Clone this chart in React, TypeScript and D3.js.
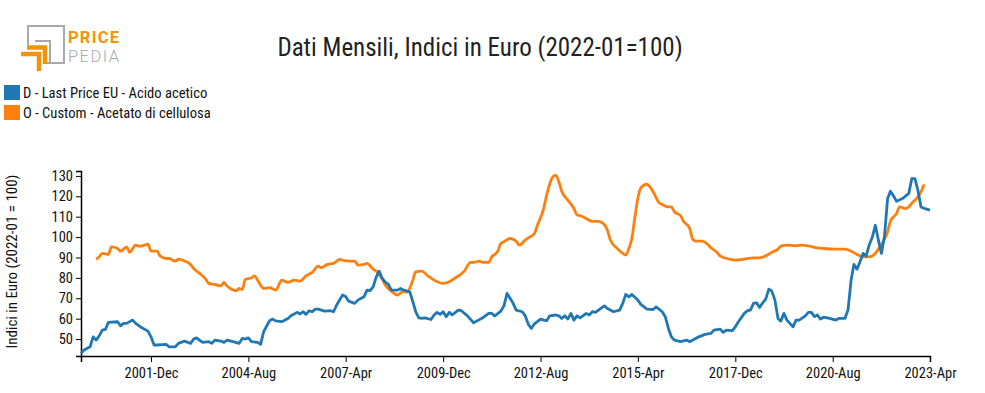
import * as d3 from 'd3'
import React, { useEffect, useRef } from 'react'

// [month, index value]
const acidoAcetico: [string, number][] = [
  ['2000-01', 43.0], ['2000-02', 44.6], ['2000-04', 46.2], ['2000-05', 51.1], ['2000-06', 49.5],
  ['2000-07', 51.6], ['2000-08', 54.4], ['2000-09', 54.7], ['2000-10', 58.2],
  ['2001-01', 58.5], ['2001-02', 56.5], ['2001-03', 57.7], ['2001-04', 57.7], ['2001-06', 59.3],
  ['2001-07', 57.7], ['2001-09', 55.5], ['2001-11', 53.9], ['2001-12', 51.1],
  ['2002-01', 47.1], ['2002-02', 47.1], ['2002-05', 47.4], ['2002-06', 46.2], ['2002-08', 46.2],
  ['2002-09', 47.9], ['2002-11', 49.0],
  ['2003-01', 47.9], ['2003-02', 50.0], ['2003-03', 50.6], ['2003-05', 48.4], ['2003-07', 48.7],
  ['2003-08', 47.9], ['2003-09', 49.5], ['2003-11', 49.0], ['2003-12', 48.4],
  ['2004-01', 49.5], ['2004-03', 48.7], ['2004-05', 47.9], ['2004-06', 50.3], ['2004-07', 50.0],
  ['2004-08', 50.6], ['2004-09', 48.7], ['2004-11', 48.4], ['2004-12', 47.4],
  ['2005-01', 53.6], ['2005-03', 59.0], ['2005-04', 59.8], ['2005-05', 58.9], ['2005-07', 58.5],
  ['2005-09', 60.1], ['2005-10', 61.4], ['2005-12', 63.1],
  ['2006-01', 62.3], ['2006-02', 63.4], ['2006-03', 62.1], ['2006-04', 63.9], ['2006-05', 63.4],
  ['2006-06', 64.7], ['2006-07', 64.7], ['2006-09', 63.7], ['2006-11', 63.9], ['2006-12', 63.4],
  ['2007-01', 66.7], ['2007-03', 71.6], ['2007-04', 70.9], ['2007-05', 68.6], ['2007-07', 67.5],
  ['2007-08', 69.1], ['2007-10', 70.7], ['2007-11', 74.0], ['2007-12', 73.8],
  ['2008-01', 75.6], ['2008-02', 80.5], ['2008-03', 83.3], ['2008-04', 79.7], ['2008-05', 77.9],
  ['2008-06', 76.8], ['2008-07', 74.0], ['2008-09', 74.0], ['2008-10', 74.8], ['2008-11', 74.0],
  ['2009-01', 73.2], ['2009-02', 68.3], ['2009-03', 63.4], ['2009-04', 60.4], ['2009-05', 60.1],
  ['2009-06', 60.4], ['2009-08', 59.6], ['2009-09', 61.8], ['2009-10', 63.1], ['2009-11', 62.1],
  ['2009-12', 63.4],
  ['2010-01', 61.0], ['2010-02', 63.1], ['2010-03', 61.8], ['2010-05', 64.2], ['2010-06', 63.9],
  ['2010-08', 61.4], ['2010-10', 58.0], ['2010-11', 58.8],
  ['2011-01', 60.4], ['2011-03', 62.6], ['2011-04', 62.6], ['2011-05', 61.3], ['2011-07', 63.7],
  ['2011-08', 66.3], ['2011-09', 72.4], ['2011-10', 70.0], ['2011-11', 67.5], ['2011-12', 64.2],
  ['2012-02', 63.4], ['2012-03', 61.4], ['2012-04', 57.2], ['2012-05', 55.2], ['2012-06', 57.5],
  ['2012-08', 59.8], ['2012-09', 59.3], ['2012-10', 59.0], ['2012-11', 61.4],
  ['2013-01', 61.8], ['2013-02', 61.4], ['2013-03', 60.1], ['2013-04', 61.4], ['2013-05', 59.8],
  ['2013-06', 62.6], ['2013-07', 59.3], ['2013-08', 61.4], ['2013-09', 60.4], ['2013-11', 62.6],
  ['2013-12', 61.8],
  ['2014-01', 63.4], ['2014-02', 63.1], ['2014-05', 66.3], ['2014-06', 65.0], ['2014-08', 63.4],
  ['2014-10', 64.2], ['2014-11', 67.5], ['2014-12', 71.9],
  ['2015-01', 70.7], ['2015-02', 71.9], ['2015-04', 69.1], ['2015-05', 67.0], ['2015-07', 64.7],
  ['2015-09', 64.5], ['2015-10', 65.8], ['2015-12', 63.4],
  ['2016-01', 60.9], ['2016-02', 55.2], ['2016-03', 51.1], ['2016-04', 49.5], ['2016-06', 48.7],
  ['2016-08', 49.5], ['2016-09', 48.7], ['2016-12', 51.1],
  ['2017-02', 52.3], ['2017-04', 52.8], ['2017-05', 54.4], ['2017-07', 54.9], ['2017-08', 53.3],
  ['2017-09', 54.4], ['2017-11', 54.1], ['2017-12', 56.0],
  ['2018-01', 58.5], ['2018-03', 62.6], ['2018-04', 63.9], ['2018-05', 64.2], ['2018-06', 67.5],
  ['2018-07', 67.8], ['2018-08', 65.5], ['2018-09', 67.8], ['2018-10', 69.6], ['2018-11', 74.5],
  ['2018-12', 73.5],
  ['2019-01', 69.1], ['2019-02', 60.1], ['2019-03', 58.8], ['2019-04', 62.6], ['2019-05', 59.3],
  ['2019-07', 56.0], ['2019-08', 59.3], ['2019-09', 59.3], ['2019-11', 61.4], ['2019-12', 63.1],
  ['2020-01', 63.1], ['2020-02', 61.0], ['2020-03', 61.8], ['2020-04', 59.8], ['2020-05', 60.7],
  ['2020-07', 60.1], ['2020-09', 59.3], ['2020-10', 60.1], ['2020-12', 60.1],
  ['2021-01', 64.2], ['2021-02', 78.9], ['2021-03', 86.6], ['2021-04', 84.3], ['2021-05', 87.9],
  ['2021-06', 92.0], ['2021-07', 90.7], ['2021-08', 96.1], ['2021-09', 99.9], ['2021-10', 105.8],
  ['2021-11', 98.5], ['2021-12', 92.0],
  ['2022-01', 100.6], ['2022-02', 118.9], ['2022-03', 122.5], ['2022-04', 120.2], ['2022-05', 117.6],
  ['2022-07', 118.9], ['2022-09', 121.4], ['2022-10', 128.7], ['2022-11', 128.7], ['2022-12', 123.0],
  ['2023-01', 114.8], ['2023-02', 114.1], ['2023-04', 113.2]
]

const acetatoCellulosa: [string, number][] = [
  ['2000-06', 89.0], ['2000-07', 90.3], ['2000-08', 92.0], ['2000-10', 91.5], ['2000-11', 95.2],
  ['2001-01', 94.4], ['2001-02', 93.1], ['2001-04', 95.2], ['2001-05', 92.5], ['2001-07', 96.1],
  ['2001-08', 95.6], ['2001-09', 95.7], ['2001-11', 96.5], ['2001-12', 93.1],
  ['2002-02', 93.1], ['2002-03', 90.8], ['2002-05', 89.5], ['2002-06', 89.5], ['2002-08', 88.2],
  ['2002-09', 89.2], ['2002-11', 88.3],
  ['2003-01', 86.6], ['2003-02', 84.6], ['2003-04', 82.2], ['2003-06', 79.4], ['2003-07', 77.3],
  ['2003-09', 76.8], ['2003-11', 76.1], ['2003-12', 77.8],
  ['2004-01', 76.0], ['2004-02', 74.8], ['2004-04', 73.7], ['2004-05', 74.8], ['2004-06', 74.3],
  ['2004-07', 79.2], ['2004-09', 80.0], ['2004-10', 81.0], ['2004-11', 78.9],
  ['2005-01', 74.8], ['2005-03', 75.2], ['2005-05', 74.0], ['2005-07', 78.9], ['2005-09', 77.8],
  ['2005-11', 78.9],
  ['2006-01', 78.4], ['2006-03', 81.0], ['2006-05', 82.7], ['2006-07', 85.8], ['2006-08', 85.0],
  ['2006-10', 86.6], ['2006-12', 87.1],
  ['2007-02', 89.0], ['2007-04', 88.3], ['2007-07', 88.2], ['2007-08', 86.3], ['2007-10', 86.6],
  ['2007-11', 87.1],
  ['2008-01', 84.3], ['2008-02', 83.3], ['2008-04', 79.4], ['2008-05', 76.5], ['2008-07', 73.5],
  ['2008-09', 71.6], ['2008-11', 73.5], ['2008-12', 72.9],
  ['2009-02', 78.9], ['2009-03', 83.0], ['2009-05', 83.3], ['2009-07', 81.0], ['2009-09', 78.9],
  ['2009-12', 77.3],
  ['2010-02', 78.1], ['2010-04', 80.0], ['2010-07', 83.3], ['2010-09', 87.6], ['2010-10', 87.6],
  ['2010-12', 88.2],
  ['2011-01', 87.6], ['2011-03', 87.6], ['2011-04', 90.3], ['2011-06', 93.1], ['2011-07', 96.9],
  ['2011-08', 97.7], ['2011-10', 99.3], ['2011-12', 98.0],
  ['2012-01', 96.1], ['2012-03', 98.5], ['2012-04', 99.6], ['2012-06', 101.8], ['2012-07', 105.8],
  ['2012-09', 114.0], ['2012-10', 120.6], ['2012-12', 129.5],
  ['2013-01', 130.3], ['2013-02', 127.0], ['2013-03', 122.5], ['2013-05', 118.1], ['2013-07', 114.0],
  ['2013-08', 110.8], ['2013-09', 110.5], ['2013-11', 109.1],
  ['2014-01', 107.7], ['2014-03', 107.7], ['2014-05', 106.2], ['2014-06', 103.3], ['2014-07', 98.5],
  ['2014-09', 94.7], ['2014-11', 92.0], ['2014-12', 91.2],
  ['2015-01', 94.4], ['2015-02', 99.6], ['2015-03', 109.1], ['2015-04', 118.9], ['2015-05', 124.1],
  ['2015-07', 125.9], ['2015-08', 124.6], ['2015-09', 122.2], ['2015-11', 116.8], ['2015-12', 116.0],
  ['2016-02', 114.8], ['2016-03', 114.8], ['2016-04', 112.4], ['2016-06', 110.5], ['2016-07', 107.8],
  ['2016-09', 104.2], ['2016-10', 99.0], ['2016-11', 98.0],
  ['2017-01', 98.0], ['2017-03', 96.4], ['2017-04', 94.8], ['2017-06', 92.5], ['2017-07', 90.8],
  ['2017-10', 89.2], ['2017-12', 88.7],
  ['2018-02', 89.0], ['2018-04', 89.5], ['2018-06', 89.8], ['2018-08', 89.8], ['2018-10', 90.8],
  ['2018-12', 92.5],
  ['2019-02', 94.1], ['2019-03', 95.6], ['2019-05', 96.1], ['2019-08', 95.7], ['2019-10', 96.1],
  ['2019-12', 95.7],
  ['2020-03', 94.7], ['2020-05', 94.4], ['2020-09', 94.1], ['2020-12', 94.1],
  ['2021-02', 93.1], ['2021-04', 91.5], ['2021-06', 90.3], ['2021-08', 90.3], ['2021-10', 92.0],
  ['2021-11', 94.1], ['2021-12', 96.4],
  ['2022-02', 102.6], ['2022-03', 107.8], ['2022-05', 111.5], ['2022-06', 114.8], ['2022-08', 114.0],
  ['2022-09', 114.8], ['2022-10', 116.5], ['2022-12', 119.8],
  ['2023-01', 122.2], ['2023-02', 125.8]
]

const seriesNames = ['D - Last Price EU - Acido acetico', 'O - Custom - Acetato di cellulosa']
const seriesColors = ['#1f77b4', '#ff7f0e']
const xTickMonths = ['2001-12', '2004-08', '2007-04', '2009-12', '2012-08', '2015-04', '2017-12', '2020-08', '2023-04']
const yTicks = [50, 60, 70, 80, 90, 100, 110, 120, 130]

const font = "'Roboto Condensed', 'Liberation Sans Narrow', 'Roboto', sans-serif"
const parseMonth = d3.timeParse('%Y-%m')
const fmtTick = d3.timeFormat('%Y-%b')

export default function App() {
  const ref = useRef<SVGSVGElement>(null)

  useEffect(() => {
    const svg = d3.select(ref.current)
    svg.selectAll('*').remove()

    const margin = { left: 81, right: 55, top: 171, bottom: 37 }
    const width = 985
    const height = 393

    const x = d3
      .scaleTime()
      .domain([parseMonth('2000-01')!, parseMonth('2023-04')!])
      .range([margin.left, width - margin.right])
    const y = d3.scaleLinear().domain([41.7, 132.4]).range([height - margin.bottom, margin.top])

    // logo
    const logoGray = '#a9a9a9'
    const logoOrange = '#f0940a'
    const logo = svg.append('g')
    logo
      .append('path')
      .attr('d', 'M28,45 V26 H64 V63 H46')
      .attr('fill', 'none')
      .attr('stroke', logoGray)
      .attr('stroke-width', 2)
    logo
      .append('path')
      .attr('d', 'M35,41 H50 V62')
      .attr('fill', 'none')
      .attr('stroke', logoGray)
      .attr('stroke-width', 2)
    logo
      .append('path')
      .attr('d', 'M27,47.5 H45 V64')
      .attr('fill', 'none')
      .attr('stroke', logoOrange)
      .attr('stroke-width', 4.5)
    logo
      .append('path')
      .attr('d', 'M21,54 H39 V71')
      .attr('fill', 'none')
      .attr('stroke', logoOrange)
      .attr('stroke-width', 4.5)
    logo
      .append('text')
      .attr('x', 68)
      .attr('y', 42.5)
      .attr('font-family', 'Roboto, sans-serif')
      .attr('font-weight', 700)
      .attr('font-size', 16.5)
      .attr('textLength', 51)
      .attr('fill', logoOrange)
      .text('PRICE')
    logo
      .append('text')
      .attr('x', 68)
      .attr('y', 61.5)
      .attr('font-family', 'Roboto, sans-serif')
      .attr('font-weight', 300)
      .attr('font-size', 16.5)
      .attr('textLength', 51)
      .attr('fill', logoGray)
      .text('PEDIA')

    // title
    svg
      .append('text')
      .attr('x', 480)
      .attr('y', 56)
      .attr('text-anchor', 'middle')
      .attr('font-family', font)
      .attr('font-size', 25)
      .attr('fill', '#222')
      .text('Dati Mensili, Indici in Euro (2022-01=100)')

    // legend
    const legend = svg.append('g').selectAll('g').data(seriesNames).join('g')
      .attr('transform', (_, i) => `translate(4,${85 + i * 20})`)
    legend.append('rect').attr('width', 16).attr('height', 15).attr('fill', (_, i) => seriesColors[i])
    legend
      .append('text')
      .attr('x', 19)
      .attr('y', 13)
      .attr('font-family', font)
      .attr('font-size', 14.6)
      .attr('fill', '#111')
      .text(d => d)

    // axes
    const xAxis = d3
      .axisBottom(x)
      .tickValues(xTickMonths.map(m => parseMonth(m)!))
      .tickFormat(d => fmtTick(d as Date))
      .tickSize(6)
    const gx = svg.append('g').attr('transform', `translate(0,${height - margin.bottom})`).call(xAxis)
    gx.selectAll('text').attr('font-family', font).attr('font-size', 14.5).attr('fill', '#111').attr('dy', '0.9em')

    const yAxis = d3.axisLeft(y).tickValues(yTicks).tickSize(5)
    const gy = svg.append('g').attr('transform', `translate(${margin.left},0)`).call(yAxis)
    gy.selectAll('text').attr('font-family', font).attr('font-size', 14.5).attr('fill', '#111')
    svg.selectAll('.domain').attr('stroke', '#000').attr('stroke-width', 1.5)

    svg
      .append('text')
      .attr('transform', `translate(17,${(margin.top + height - margin.bottom) / 2 - 2}) rotate(-90)`)
      .attr('text-anchor', 'middle')
      .attr('font-family', font)
      .attr('font-size', 15)
      .attr('fill', '#111')
      .text('Indici in Euro (2022-01 = 100)')

    // lines
    const blueLine = d3
      .line<[string, number]>()
      .x(d => x(parseMonth(d[0])!))
      .y(d => y(d[1]))
    const orangeLine = d3
      .line<[string, number]>()
      .curve(d3.curveMonotoneX)
      .x(d => x(parseMonth(d[0])!))
      .y(d => y(d[1]))

    svg
      .append('path')
      .datum(acetatoCellulosa)
      .attr('fill', 'none')
      .attr('stroke', seriesColors[1])
      .attr('stroke-width', 2.8)
      .attr('d', orangeLine)
    svg
      .append('path')
      .datum(acidoAcetico)
      .attr('fill', 'none')
      .attr('stroke', seriesColors[0])
      .attr('stroke-width', 2.8)
      .attr('stroke-linejoin', 'round')
      .attr('d', blueLine)
  }, [ref])

  return (
    <svg
      ref={ref}
      width={985}
      height={393}
      style={{ position: 'absolute', left: 0, top: 0, background: '#fff' }}
    />
  )
}
